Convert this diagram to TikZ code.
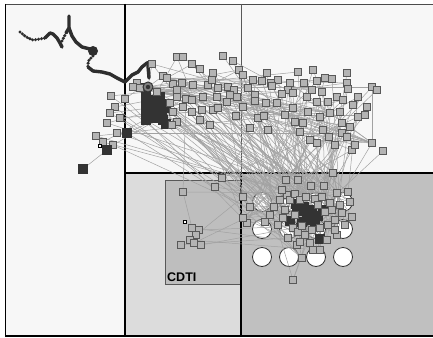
\documentclass[tikz,border=0pt]{standalone}
\usepackage{fontspec}
\setmainfont{Liberation Sans}
\pgfdeclarelayer{back}
\pgfdeclarelayer{edges}
\pgfsetlayers{back,edges,main}
\definecolor{panel}{HTML}{F7F7F7}
\definecolor{blpanel}{HTML}{DCDCDC}
\definecolor{brpanel}{HTML}{C0C0C0}
\definecolor{cdtifill}{HTML}{BEBEBE}
\definecolor{sqfill}{HTML}{B4B4B4}
\definecolor{sqline}{HTML}{585858}
\definecolor{darksq}{HTML}{333333}
\definecolor{edgecol}{HTML}{A2A2A2}
\definecolor{trackcol}{HTML}{2E2E2E}
\begin{document}
\begin{tikzpicture}[x=1pt,y=-1pt,
  sq/.style={rectangle,draw=sqline,fill=sqfill,line width=0.9pt,minimum size=7.5pt,inner sep=0pt},
  dk/.style={rectangle,fill=darksq,minimum size=9.5pt,inner sep=0pt},
  opensq/.style={rectangle,draw=black,fill=white,line width=0.6pt,minimum size=3.2pt,inner sep=0pt},
  circ/.style={circle,draw=darksq,fill=white,line width=0.8pt,minimum size=19pt,inner sep=0pt},
  edge/.style={draw=edgecol,line width=0.5pt},
  frame/.style={draw=black,line width=1.4pt},
  track/.style={draw=trackcol,line width=3.4pt,line cap=round,line join=round},
  dots/.style={draw=trackcol,line width=3.4pt,line cap=round,dash pattern=on 0pt off 3pt}]
\useasboundingbox (0,0) rectangle (433,337);
\begin{pgfonlayer}{back}
\fill[white] (0,0) rectangle (433,337);
\fill[panel] (5,4) rectangle (433,173);
\fill[panel] (5,4) rectangle (125,336);
\fill[blpanel] (125,173) rectangle (241,336);
\fill[brpanel] (241,173) rectangle (433,336);
\filldraw[fill=cdtifill,draw=sqline,line width=0.9pt] (165,180) rectangle (241,284);
\node[anchor=south west,inner sep=0pt,font=\fontsize{12.5}{13}\selectfont\bfseries] (cdti) at (167,282) {CDTI};
\draw[draw=gray!60!black,line width=1.3pt] (5,4.5) -- (433,4.5);
\draw[frame] (5.5,4) -- (5.5,336);
\draw[frame] (125,4) -- (125,336);
\draw[draw=gray!70!black,line width=0.9pt] (241,4) -- (241,173);
\draw[frame] (125,173) -- (433,173);
\draw[frame] (241,173) -- (241,336);
\draw[frame] (5,336) -- (433,336);
\foreach \cx/\cy [count=\i] in {262/202,289/202,316/202,343/202,262/229,289/229,316/229,343/229,262/257,289/257,316/257,343/257}
  \node[circ] (c\i) at (\cx,\cy) {};
\end{pgfonlayer}
% track
\draw[dots] (20,32) -- (25,36) -- (28,38) -- (33,40) -- (40,39) -- (45,38);
\draw[track] (45,38) -- (50,33) -- (53,34) -- (57,38) -- (60,43) -- (62,47);
\draw[dots] (62,41) -- (66,33);
\draw[track] (66,33) -- (69,28) -- (69,16);
\draw[track] (69,28) -- (72,36) -- (76,42) -- (82,47) -- (90,49);
\fill[trackcol] (93,51) circle (5);
\draw[dots] (93,56) -- (89,60) -- (88,64) -- (88,67);
\draw[track] (88,67) -- (93,71) -- (102,72) -- (110,74) -- (117,78) -- (125,82) -- (132,75) -- (138,72) -- (142,67) -- (147,63) -- (151,62);
\draw[track] (148,66) -- (149,78);
% dark column (beneath the light squares)
\foreach \px/\py [count=\i] in {146/96,146/104,146/112,146/120,153/100,153/110,162/104,162/112,163/120,158/118,
  153/118,160/97,166/108,166/124,146/88}
  \node[dk] (d\i) at (\px,\py) {};
% dark squares of the lower cluster
\foreach \px/\py [count=\i] in {312/210,304/207,310/220,318/216,290/221,320/239,302/222,297/211,
  307/214,315/224,296/204,323/210}
  \node[dk] (bd\i) at (\px,\py) {};
% top cluster
\foreach \px/\py [count=\i] in {177/57,183/57,192/64,200/69,213/73,223/56,233/61,239/70,243/75,163/76,
  173/84,182/83,193/85,208/85,218/88,228/87,157/92,177/90,177/97,186/99,
  192/100,203/97,217/97,227/102,237/97,137/83,140/88,170/103,173/112,183/107,
  192/112,202/110,213/110,177/122,200/120,172/125,152/64,133/87,167/78,253/80,
  262/81,267/73,271/83,278/80,290/83,298/72,313/70,304/83,317/81,325/78,
  332/79,347/73,347/83,348/89,372/87,377/90,358/97,367/107,365/115,358/117,
  372/143,383/151,352/150,355/145,212/80,234/90,230/95,218/108,243/107,255/95,
  255/101,266/103,277/103,293/108,307/97,317/102,328/102,337/97,343/100,353/105,
  308/112,320/117,330/113,340/112,258/118,264/116,295/122,303/123,323/130,342/123,
  350/127,342/133,347/137,268/130,310/140,317/143,329/137,272/86,288/90,293/93,
  248/88,282/94,312/90,322/92,285/115,250/128,236/116,210/125,335/145,300/132}{
  \node[sq] (t\i) at (\px,\py) {};
  \xdef\nT{\i}}
% bottom cluster
\foreach \px/\py [count=\i] in {286/180,298/180,333/173,243/197,250/207,274/207,247/223,243/218,297/245,302/258,
  293/280,313/250,320/250,337/193,348/192,350/202,352/217,337/235,327/240,287/195,
  290/200,295/194,300/200,306/197,315/199,322/197,330/203,340/205,285/210,283/218,
  293/228,298/232,305/235,312/230,320/228,328/225,335/220,342/213,278/225,288/238,
  300/242,325/212,332/210,345/225,280/200,295/215,335/230,310/243,318/205,302/226,
  270/215,282/190,311/186,324/186,265/222}{
  \node[sq] (b\i) at (\px,\py) {};
  \xdef\nB{\i}}
% left cluster
\foreach \px/\py [count=\i] in {111/96,125/99,115/107,110/113,107/123,120/118,117/133,96/136,103/142,113/145}{
  \node[sq] (l\i) at (\px,\py) {};
  \xdef\nL{\i}}
\node[dk] (ld1) at (127,133) {};
\node[dk] (ld2) at (107,150) {};
\node[dk] (ld3) at (83,169) {};
\node[opensq] (lo) at (100,146) {};
% CDTI cluster
\foreach \px/\py [count=\i] in {183/192,215/187,222/178,192/228,199/230,196/235,190/240,194/243,201/245,181/245}{
  \node[sq] (k\i) at (\px,\py) {};
  \xdef\nK{\i}}
\node[opensq] (ko) at (185,222) {};
% hub target
\node[circle,draw=darksq,fill=gray,line width=1pt,minimum size=10pt,inner sep=0pt] (hub) at (148,87) {};
\node[circle,fill=darksq,minimum size=4.5pt,inner sep=0pt] (hubc) at (148,87) {};
% connectors
\begin{pgfonlayer}{edges}
\foreach \i in {1,...,\nT}{
  \pgfmathtruncatemacro\j{mod(7*\i,\nB)+1}
  \pgfmathtruncatemacro\k{mod(11*\i+5,\nT)+1}
  \pgfmathtruncatemacro\odd{mod(\i,2)}
  \draw[edge] (t\i) -- (b\j);
  \ifnum\odd=1 \ifnum\k=\i\else\draw[edge] (t\i) -- (t\k);\fi\fi
}
\foreach \i in {1,...,\nB}{
  \pgfmathtruncatemacro\j{mod(5*\i+2,\nB)+1}
  \ifnum\j=\i\else\draw[edge] (b\i) -- (b\j);\fi
}
\foreach \i in {1,...,\nL}{
  \pgfmathtruncatemacro\j{mod(3*\i,\nB)+1}
  \pgfmathtruncatemacro\k{mod(13*\i,\nT)+1}
  \draw[edge] (l\i) -- (b\j);
  \draw[edge] (l\i) -- (t\k);
}
\foreach \i in {1,...,\nK}{
  \pgfmathtruncatemacro\j{mod(9*\i+4,\nB)+1}
  \draw[edge] (k\i) -- (b\j);
}
\foreach \i in {1,...,14}{
  \pgfmathtruncatemacro\k{mod(9*\i,\nT)+1}
  \draw[edge] (hub) -- (t\k);
}
\foreach \i in {1,...,10}{
  \pgfmathtruncatemacro\j{mod(4*\i+1,\nB)+1}
  \draw[edge] (d\i) -- (b\j);
}
\draw[edge] (ld3) -- (ld2);
\draw[edge] (ld2) -- (l9);
\draw[edge] (ld1) -- (b12);
\draw[edge] (ld1) -- (t30);
\draw[edge] (k1) -- (t20);
\draw[edge] (k2) -- (t45);
\draw[edge] (k3) -- (t60);
\draw[edge] (k1) -- (k4);
\end{pgfonlayer}
\end{tikzpicture}
\end{document}
